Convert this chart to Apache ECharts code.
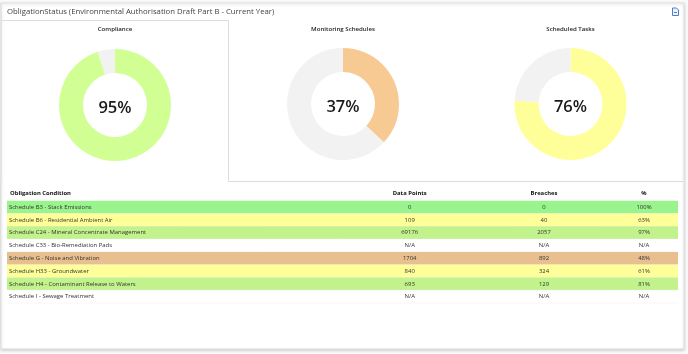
<!DOCTYPE html>
<html><head><meta charset="utf-8">
<style>html,body{margin:0;padding:0;background:#fff}#c{width:688px;height:354px}</style>
<script src="https://cdn.jsdelivr.net/npm/echarts@6/dist/echarts.min.js"></script>
</head><body><div id="c"></div>
<script>
const donutTitles = ['Compliance','Monitoring Schedules','Scheduled Tasks'];
const donutValues = [95,37,76];
const donutColors = ['#d2ff94','#f7ca94','#ffff99'];
const headers = ['Obligation Condition','Data Points','Breaches','%'];
const conditions = ['Schedule B3 - Stack Emissions','Schedule B6 - Residential Ambient Air','Schedule C24 - Mineral Concentrate Management','Schedule C33 - Bio-Remediation Pads','Schedule G - Noise and Vibration','Schedule H33 - Groundwater','Schedule H4 - Contaminant Release to Waters','Schedule I - Sewage Treatment'];
const dataPoints = ['0','109','69176','N/A','1704','840','693','N/A'];
const breaches = ['0','40','2057','N/A','892','324','129','N/A'];
const percents = ['100%','63%','97%','N/A','48%','61%','81%','N/A'];
const rowColors = ['#9af48e','#ffff99','#c2f28c','#ffffff','#e8bf8f','#ffff99','#c2f28c','#ffffff'];
const FONT = '"Open Sans"';
const centers = [[115,105],[343,104],[570.5,104]];
const titleX = [115,343,570.5];
const titleY = [29.5,29,29];

const columnX = [9,409.7,544,644];
const chart = echarts.init(document.getElementById('c'),null,{renderer:'canvas'});
const option = {
  animation:false,
  backgroundColor:'#fafafa',
  grid:{left:7,right:10,top:200.7,height:102.4,containLabel:false},
  xAxis:{type:'value',min:0,max:1,show:false},
  yAxis:{type:'category',inverse:true,data:conditions,show:false},
  graphic:[
    {type:'rect',z:0,shape:{x:1,y:3,width:683,height:346},style:{fill:'#fff',stroke:'#e2e2e2',lineWidth:1,shadowBlur:3,shadowColor:'rgba(0,0,0,0.18)',shadowOffsetY:1}},
    {type:'polyline',z:1,shape:{points:[[1.5,20.5],[228.5,20.5],[228.5,181.5],[683.5,181.5]]},style:{fill:null,stroke:'#dcdcdc',lineWidth:1}},
    {type:'rect',z:1,shape:{x:0,y:3,width:2,height:178},style:{fill:'#e4e4e4'}},
    {type:'text',z:2,x:7,y:12,style:{text:'ObligationStatus (Environmental Authorisation Draft Part B - Current Year)',font:'400 7.75px '+FONT,fill:'#444',textVerticalAlign:'middle'}},
    {type:'group',z:2,x:672.5,y:8,children:[
      {type:'polyline',shape:{points:[[0,0],[4,0],[6,2],[6,7.5],[0,7.5],[0,0]]},style:{fill:'#eef3fb',stroke:'#4f7fc4',lineWidth:1}},
      {type:'line',shape:{x1:1.5,y1:4.5,x2:4.5,y2:4.5},style:{stroke:'#4f7fc4',lineWidth:1}}
    ]},
    ...donutTitles.map((t,i)=>({type:'text',z:2,x:titleX[i],y:titleY[i],style:{text:t,font:'600 6.1px '+FONT,fill:'#222',textAlign:'center',textVerticalAlign:'middle'}})),
    ...headers.map((t,i)=>({type:'text',z:2,x:i===0?10:columnX[i],y:193.3,style:{text:t,font:'700 5.9px '+FONT,fill:'#111',textAlign:i===0?'left':'center',textVerticalAlign:'middle'}}))
  ],
  series:[
    ...donutValues.map((v,i)=>({
      type:'pie',center:centers[i],radius:[32,56],startAngle:90,clockwise:true,silent:true,
      label:{show:true,position:'center',offset:[0,3],formatter:v+'%',fontFamily:FONT,fontWeight:600,fontSize:16.5,color:'#1a1a1a'},
      labelLine:{show:false},emphasis:{disabled:true},
      data:[{value:v,itemStyle:{color:donutColors[i]}},{value:100-v,itemStyle:{color:'#f2f2f2'},label:{show:false}}]
    })),
    {
      type:'custom',silent:true,coordinateSystem:'cartesian2d',
      data:conditions.map((c,i)=>[0,c,dataPoints[i],breaches[i],percents[i],rowColors[i]]),
      encode:{x:0,y:1},
      renderItem:(params,api)=>{
        const i=params.dataIndex;
        const p=api.coord([0,i]);
        const band=api.size([0,1])[1];
        const left=p[0];
        const right=api.coord([1,i])[0];
        const txt=(t,x,al)=>({type:'text',style:{text:t,x:x,y:p[1],font:'400 5.95px '+FONT,fill:'#333',textAlign:al,textVerticalAlign:'middle'}});
        return {type:'group',children:[
          {type:'rect',shape:{x:left,y:p[1]-band/2,width:right-left,height:band},style:{fill:rowColors[i]}},
          {type:'line',shape:{x1:left,y1:p[1]+band/2,x2:right,y2:p[1]+band/2},style:{stroke:'#f0f0f0',lineWidth:0.5}},
          txt(conditions[i],columnX[0],'left'),
          txt(dataPoints[i],columnX[1],'center'),
          txt(breaches[i],columnX[2],'center'),
          txt(percents[i],columnX[3],'center')
        ]};
      }
    }
  ]
};
chart.setOption(option);
</script></body></html>
